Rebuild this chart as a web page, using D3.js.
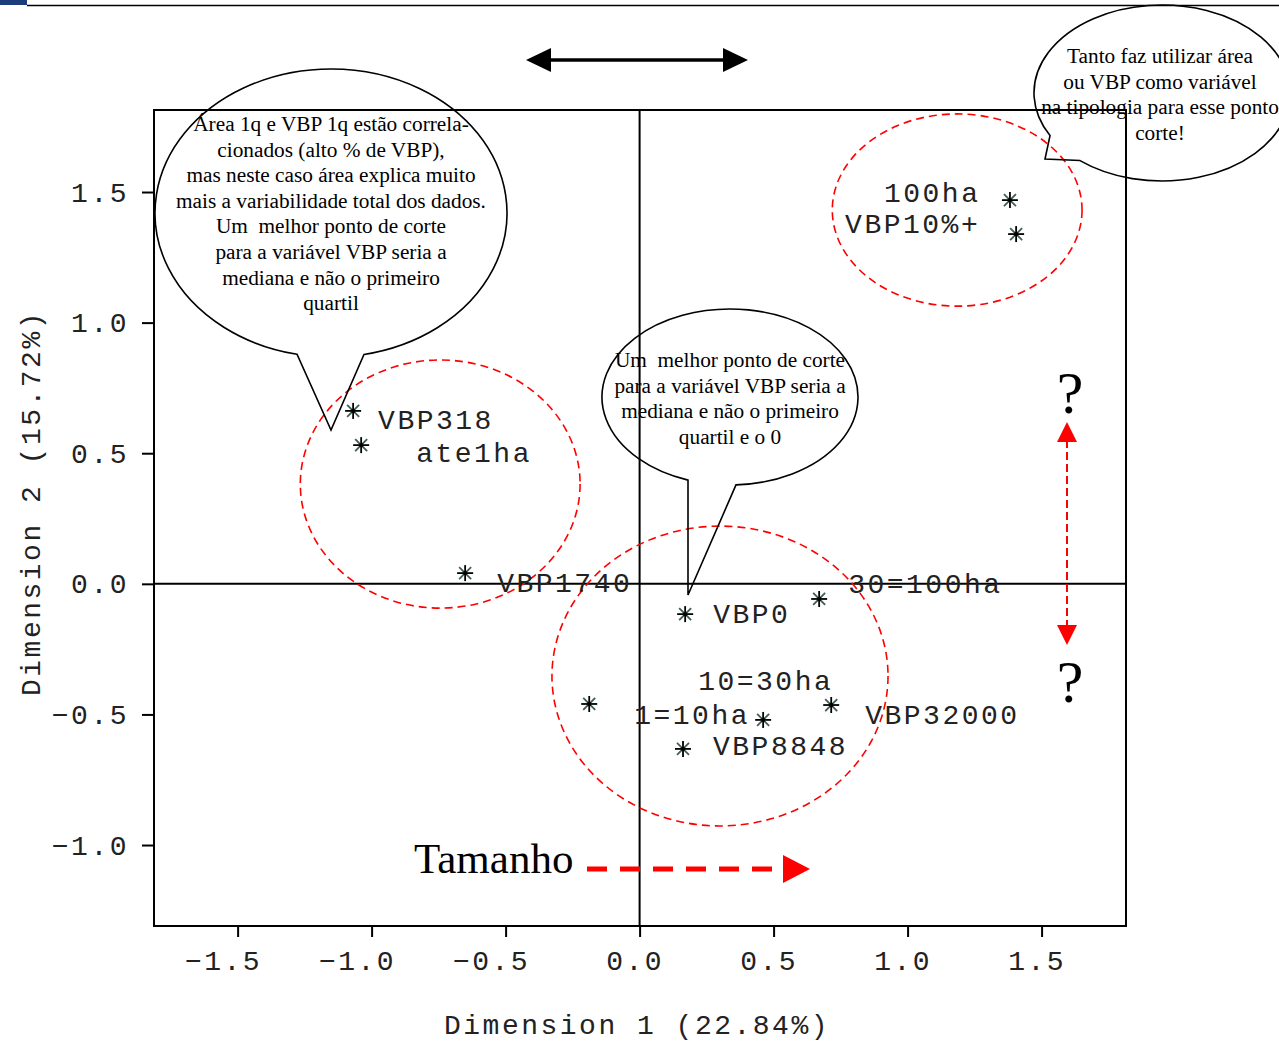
<!DOCTYPE html>
<html><head><meta charset="utf-8">
<script src="https://cdn.jsdelivr.net/npm/d3@7"></script>
<style>body{margin:0;background:#fff} svg{display:block} text{white-space:pre}</style>
</head><body>
<svg id="c" width="1279" height="1042"></svg>
<script>
// ---------------- DATA ----------------
const categories = ["100ha","VBP10%+","VBP318","ate1ha","VBP1740","VBP0","30=100ha","1=10ha","10=30ha","VBP32000","VBP8848"];
const dim1 = [1.382, 1.405, -1.069, -1.039, -0.651, 0.170, 0.670, -0.188, 0.461, 0.715, 0.162];
const dim2 = [1.469, 1.339, 0.662, 0.531, 0.041, -0.116, -0.058, -0.460, -0.521, -0.464, -0.632];
const xTicks = [-1.5, -1.0, -0.5, 0.0, 0.5, 1.0, 1.5];
const yTicks = [-1.0, -0.5, 0.0, 0.5, 1.0, 1.5];
const xTitle = "Dimension 1 (22.84%)";
const yTitle = "Dimension 2 (15.72%)";
const noteLeft = ["Área 1q e VBP 1q estão correla-","cionados (alto % de VBP),","mas neste caso área explica muito","mais a variabilidade total dos dados.","Um  melhor ponto de corte","para a variável VBP seria a","mediana e não o primeiro","quartil"];
const noteMid = ["Um  melhor ponto de corte","para a variável VBP seria a","mediana e não o primeiro","quartil e o 0"];
const noteRight = ["Tanto faz utilizar área","ou VBP como variável","na tipologia para esse ponto","corte!"];
const sizeLabel = "Tamanho";

// ---------------- LAYOUT / STYLE ----------------
const M = {left:154, right:1126, top:110, bottom:926};
const MONO = "'Liberation Mono', 'DejaVu Sans Mono', monospace";
const SERIF = "'Liberation Serif', 'DejaVu Serif', serif";
const MONO_SIZE = 28, MONO_LS = 2.5, NOTE_SIZE = 21.3;
// label offsets (px) relative to each point: [dx, dy]
const labelOffset = {
  "100ha":[-126,2], "VBP10%+":[-171,-1], "VBP318":[25,18], "ate1ha":[55,17],
  "VBP1740":[32,19], "VBP0":[28,9], "30=100ha":[29,-6], "1=10ha":[45,20],
  "10=30ha":[-65,-30], "VBP32000":[34,19], "VBP8848":[30,6]
};

const svg = d3.select("#c");
const x = d3.scaleLinear().domain([-1.812, 1.815]).range([M.left, M.right]);
const y = d3.scaleLinear().domain([-1.310, 1.814]).range([M.bottom, M.top]);

// top decoration
svg.append("rect").attr("x",0).attr("y",0).attr("width",27).attr("height",5).attr("fill","#1c3c7c");
svg.append("line").attr("x1",27).attr("x2",1279).attr("y1",5.5).attr("y2",5.5).attr("stroke","#000").attr("stroke-width",1.5);

// frame
svg.append("rect").attr("x",M.left).attr("y",M.top).attr("width",M.right-M.left).attr("height",M.bottom-M.top)
  .attr("fill","none").attr("stroke","#000").attr("stroke-width",2);

// axes
const fmt = d3.format(".1f");
const gx = svg.append("g").attr("transform",`translate(0,${M.bottom})`)
  .call(d3.axisBottom(x).tickValues(xTicks).tickSize(11).tickFormat(fmt));
const gy = svg.append("g").attr("transform",`translate(${M.left},0)`)
  .call(d3.axisLeft(y).tickValues(yTicks).tickSize(12).tickFormat(fmt));
[gx, gy].forEach(g => {
  g.select(".domain").remove();
  g.selectAll(".tick line").attr("stroke","#000").attr("stroke-width",2);
  g.selectAll(".tick text").attr("font-family",MONO).attr("font-size",MONO_SIZE)
    .attr("letter-spacing",MONO_LS).attr("fill","#222").attr("text-anchor","end");
});
gx.selectAll(".tick text").attr("x",24).attr("y",0).attr("dy",44);
gy.selectAll(".tick text").attr("x",-25).attr("dy",9);

// axis titles
svg.append("text").attr("x",637).attr("y",1034).attr("text-anchor","middle")
  .attr("font-family",MONO).attr("font-size",MONO_SIZE).attr("letter-spacing",MONO_LS).attr("fill","#222").text(xTitle);
svg.append("text").attr("transform","translate(40,503) rotate(-90)").attr("text-anchor","middle")
  .attr("font-family",MONO).attr("font-size",MONO_SIZE).attr("letter-spacing",MONO_LS).attr("fill","#222").text(yTitle);

// zero reference lines
svg.append("line").attr("x1",x(0)).attr("x2",x(0)).attr("y1",M.top).attr("y2",M.bottom).attr("stroke","#000").attr("stroke-width",2);
svg.append("line").attr("x1",M.left).attr("x2",M.right).attr("y1",y(0)).attr("y2",y(0)).attr("stroke","#000").attr("stroke-width",2);

// red dashed grouping ellipses (data units)
const groups = [
  {cx:-0.744, cy:0.382, rx:0.522, ry:0.475},
  {cx:0.300, cy:-0.353, rx:0.627, ry:0.574},
  {cx:1.185, cy:1.431, rx:0.466, ry:0.368}
];
svg.selectAll("ellipse.grp").data(groups).join("ellipse").attr("class","grp")
  .attr("cx",d=>x(d.cx)).attr("cy",d=>y(d.cy))
  .attr("rx",d=>x(d.rx)-x(0)).attr("ry",d=>y(0)-y(d.ry))
  .attr("fill","none").attr("stroke","#f00").attr("stroke-width",1.6).attr("stroke-dasharray","8,5");

// speech bubbles
function bubble(cx, cy, rx, ry, ax, bx, tip, lines, tx, ty0, lh) {
  const py = px => cy + ry*Math.sqrt(Math.max(0, 1 - ((px-cx)/rx)**2));
  const p = `M${bx},${py(bx)} A${rx},${ry} 0 1 0 ${ax},${py(ax)} L${tip[0]},${tip[1]} Z`;
  svg.append("path").attr("d",p).attr("fill","none").attr("stroke","#000").attr("stroke-width",1.6);
  svg.append("g").selectAll("text").data(lines).join("text")
    .attr("x",tx).attr("y",(d,i)=>ty0+i*lh).attr("text-anchor","middle")
    .attr("font-family",SERIF).attr("font-size",NOTE_SIZE).attr("fill","#000").text(d=>d);
}
bubble(331, 213, 176, 144, 297, 364, [331,430], noteLeft, 331, 131, 25.6);
bubble(730, 397, 128, 88, 688, 736, [688,595], noteMid, 730, 367, 25.5);
bubble(1162, 93, 128, 88, 1050, 1080, [1045,159], noteRight, 1160, 63, 25.5);

// point labels
const pts = categories.map((c,i)=>({name:c, v1:dim1[i], v2:dim2[i]}));
svg.append("g").selectAll("text").data(pts).join("text")
  .attr("x",d=>x(d.v1)+labelOffset[d.name][0]).attr("y",d=>y(d.v2)+labelOffset[d.name][1])
  .attr("font-family",MONO).attr("font-size",MONO_SIZE).attr("letter-spacing",MONO_LS).attr("fill","#222")
  .text(d=>d.name);

// star markers
const star = svg.append("g").selectAll("g").data(pts).join("g")
  .attr("transform",d=>`translate(${x(d.v1)},${y(d.v2)})`)
  .attr("stroke","#000").attr("stroke-width",1.8);
star.append("line").attr("x1",-8).attr("x2",8).attr("y1",0).attr("y2",0);
star.append("line").attr("x1",0).attr("x2",0).attr("y1",-8).attr("y2",8);
star.append("line").attr("x1",-6).attr("x2",6).attr("y1",-6).attr("y2",6).attr("stroke","#3f5f50");
star.append("line").attr("x1",-6).attr("x2",6).attr("y1",6).attr("y2",-6).attr("stroke","#3f5f50");
star.append("circle").attr("r",2.2).attr("fill","#000").attr("stroke","none");

// top black double arrow
svg.append("line").attr("x1",548).attr("x2",726).attr("y1",60).attr("y2",60).attr("stroke","#000").attr("stroke-width",3.5);
svg.append("path").attr("d","M526,60 L551,48 L551,72 Z").attr("fill","#000");
svg.append("path").attr("d","M748,60 L723,48 L723,72 Z").attr("fill","#000");

// red vertical double arrow with question marks
svg.append("line").attr("x1",1067).attr("x2",1067).attr("y1",440).attr("y2",627)
  .attr("stroke","#f00").attr("stroke-width",2).attr("stroke-dasharray","8,4");
svg.append("path").attr("d","M1067,422 L1057,442 L1077,442 Z").attr("fill","#f00");
svg.append("path").attr("d","M1067,645 L1057,625 L1077,625 Z").attr("fill","#f00");
svg.selectAll("text.q").data([413, 702]).join("text").attr("class","q")
  .attr("x",1070).attr("y",d=>d).attr("text-anchor","middle")
  .attr("font-family",SERIF).attr("font-size",60).attr("fill","#000").text("?");

// Tamanho arrow
svg.append("text").attr("x",414).attr("y",873).attr("font-family",SERIF).attr("font-size",43).attr("fill","#000").text(sizeLabel);
svg.append("line").attr("x1",587).attr("x2",784).attr("y1",869).attr("y2",869)
  .attr("stroke","#f00").attr("stroke-width",5).attr("stroke-dasharray","20,13");
svg.append("path").attr("d","M810,869 L783,855 L783,883 Z").attr("fill","#f00");
</script>
</body></html>
